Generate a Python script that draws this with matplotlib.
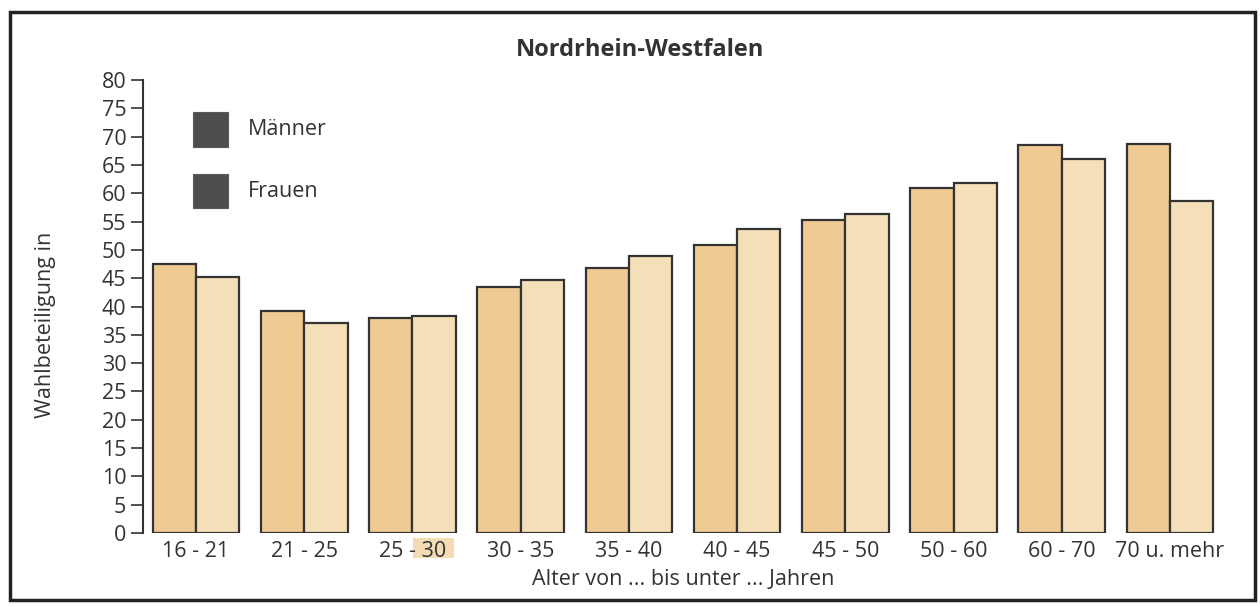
import matplotlib.pyplot as plt
import numpy as np
from matplotlib.patches import Rectangle

plt.rcParams['font.family'] = ['Open Sans', 'DejaVu Sans']

# Daten
altersgruppen = ["16 - 21", "21 - 25", "25 - 30", "30 - 35", "35 - 40",
                 "40 - 45", "45 - 50", "50 - 60", "60 - 70", "70 u. mehr"]
maenner = [47.5, 39.2, 38.0, 43.5, 46.8, 50.9, 55.3, 61.0, 68.6, 68.7]
frauen = [45.2, 37.1, 38.3, 44.7, 48.9, 53.7, 56.4, 61.8, 66.1, 58.7]
y_ticks = list(range(0, 85, 5))

fs = 15.5

fig = plt.figure(figsize=(12.6, 6.07), dpi=100)
ax = fig.add_axes([0.1135, 0.122, 0.858, 0.746])

x = np.arange(len(altersgruppen))
w = 0.4
ax.bar(x - w / 2, maenner, w, color='#efcb93', edgecolor='#333333', linewidth=1.6)
ax.bar(x + w / 2, frauen, w, color='#f5dfb9', edgecolor='#333333', linewidth=1.6)

ax.set_xlim(-0.49, 9.5)
ax.set_ylim(0, 80)
ax.set_yticks(y_ticks)
ax.tick_params(axis='y', labelsize=fs, length=9, width=1.2, color='#333333', labelcolor='#333333', pad=3)
ax.set_xticks(x)
ax.set_xticklabels(altersgruppen)
ax.tick_params(axis='x', length=0, labelsize=fs, labelcolor='#333333', pad=6)
for s in ['top', 'right', 'bottom']:
    ax.spines[s].set_visible(False)
ax.spines['left'].set_color('#333333')
ax.spines['left'].set_linewidth(1.5)

ax.set_xlabel("Alter von ... bis unter ... Jahren", fontsize=fs, color='#333333', labelpad=5)
fig.text(0.036, 0.465, "Wahlbeteiligung in", rotation=90, fontsize=fs, color='#333333',
         ha='center', va='center')
fig.text(0.508, 0.918, "Nordrhein-Westfalen", fontsize=17, fontweight='bold', color='#333333',
         ha='center', va='center')

# Legende (Kästchen dunkel wie im Original)
for lbl, yy in [("Männer", 0.786), ("Frauen", 0.685)]:
    fig.patches.append(Rectangle((0.153, yy - 0.028), 0.028, 0.057, transform=fig.transFigure,
                                 facecolor='#4d4d50', edgecolor='#5a5a5a', linewidth=0.8))
    fig.text(0.197, yy, lbl, fontsize=fs, color='#333333', va='center')

# heller Fleck hinter "30"
fig.patches.append(Rectangle((0.328, 0.08), 0.032, 0.034, transform=fig.transFigure,
                             facecolor='#f3dcb4', edgecolor='none', zorder=-1))

# Rahmen
fig.patches.append(Rectangle((0.008, 0.012), 0.988, 0.968, transform=fig.transFigure,
                             fill=False, edgecolor='#222222', linewidth=2.5))

fig.savefig("out.png", dpi=100)
